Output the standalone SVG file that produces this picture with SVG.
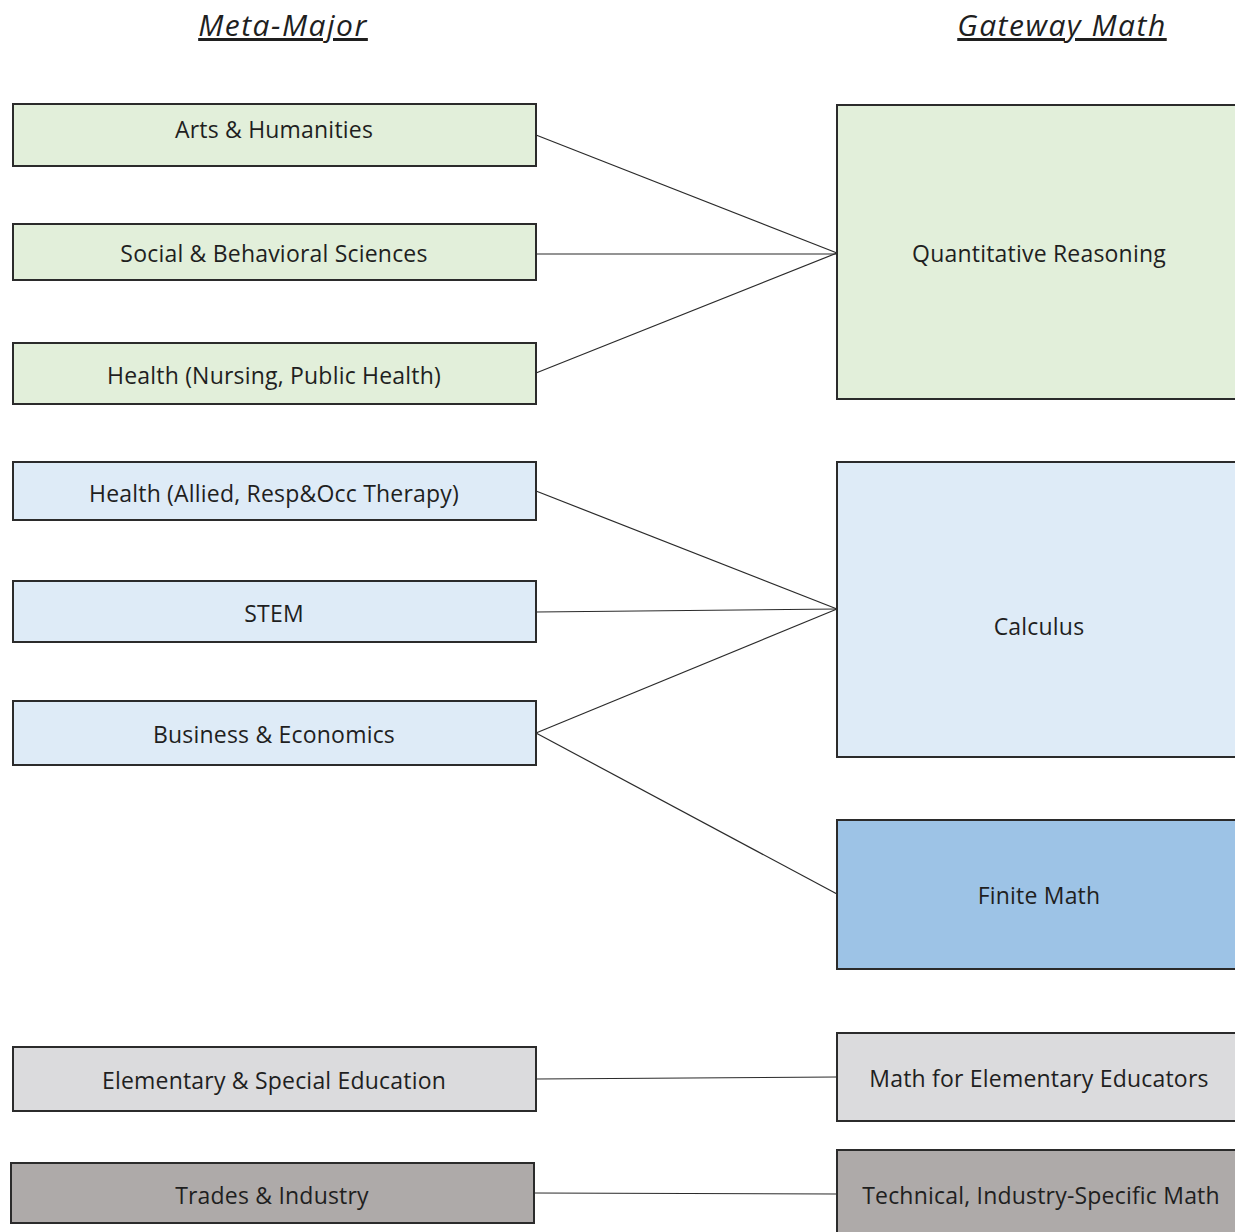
<svg xmlns="http://www.w3.org/2000/svg" width="1235" height="1232" viewBox="0 0 1235 1232">
  <style>
    .box { stroke: #2b2b2b; stroke-width: 2; }
    .green { fill: #e2efda; }
    .blue { fill: #deebf7; }
    .mid { fill: #9dc3e6; }
    .grey { fill: #dbdbdd; }
    .dark { fill: #aeaaa9; }
    .lbl { font-family: "Open Sans", "Liberation Sans", sans-serif; font-size: 23px; letter-spacing: 0.2px; fill: #1f1f1f; text-anchor: middle; }
    .hdr { font-family: "Open Sans", "Liberation Sans", sans-serif; font-size: 30px; letter-spacing: 1.5px; font-style: italic; fill: #1f1f1f; text-anchor: middle; text-decoration: underline; }
    .link { stroke: #2b2b2b; stroke-width: 1.2; fill: none; }
  </style>
  <rect width="1235" height="1232" fill="#ffffff"/>

  <text class="hdr" x="283" y="36">Meta-Major</text>
  <text class="hdr" x="1062" y="36">Gateway Math</text>

  <g id="connectors">
    <line class="link" x1="536" y1="135" x2="837" y2="253"/>
    <line class="link" x1="536" y1="254" x2="837" y2="254"/>
    <line class="link" x1="536" y1="373" x2="837" y2="253"/>
    <line class="link" x1="536" y1="491" x2="837" y2="609"/>
    <line class="link" x1="536" y1="612" x2="837" y2="609"/>
    <line class="link" x1="536" y1="733" x2="837" y2="609"/>
    <line class="link" x1="536" y1="733" x2="837" y2="894"/>
    <line class="link" x1="536" y1="1079" x2="837" y2="1077"/>
    <line class="link" x1="534" y1="1193" x2="837" y2="1194"/>
  </g>

  <!-- meta-major boxes -->
  <g id="arts">
    <rect class="box green" x="13" y="104" width="523" height="62"/>
    <text class="lbl" x="274" y="138">Arts &amp; Humanities</text>
  </g>
  <g id="social">
    <rect class="box green" x="13" y="224" width="523" height="56"/>
    <text class="lbl" x="274" y="262">Social &amp; Behavioral Sciences</text>
  </g>
  <g id="health-nursing">
    <rect class="box green" x="13" y="343" width="523" height="61"/>
    <text class="lbl" x="274" y="384">Health (Nursing, Public Health)</text>
  </g>
  <g id="health-allied">
    <rect class="box blue" x="13" y="462" width="523" height="58"/>
    <text class="lbl" x="274" y="502">Health (Allied, Resp&amp;Occ Therapy)</text>
  </g>
  <g id="stem">
    <rect class="box blue" x="13" y="581" width="523" height="61"/>
    <text class="lbl" x="274" y="622">STEM</text>
  </g>
  <g id="business">
    <rect class="box blue" x="13" y="701" width="523" height="64"/>
    <text class="lbl" x="274" y="743">Business &amp; Economics</text>
  </g>
  <g id="elementary">
    <rect class="box grey" x="13" y="1047" width="523" height="64"/>
    <text class="lbl" x="274" y="1089">Elementary &amp; Special Education</text>
  </g>
  <g id="trades">
    <rect class="box dark" x="11" y="1163" width="523" height="60"/>
    <text class="lbl" x="272" y="1204">Trades &amp; Industry</text>
  </g>

  <!-- gateway math boxes -->
  <g id="quant">
    <rect class="box green" x="837" y="105" width="410" height="294"/>
    <text class="lbl" x="1039" y="262">Quantitative Reasoning</text>
  </g>
  <g id="calculus">
    <rect class="box blue" x="837" y="462" width="410" height="295"/>
    <text class="lbl" x="1039" y="635">Calculus</text>
  </g>
  <g id="finite">
    <rect class="box mid" x="837" y="820" width="410" height="149"/>
    <text class="lbl" x="1039" y="904">Finite Math</text>
  </g>
  <g id="math-elem">
    <rect class="box grey" x="837" y="1033" width="410" height="88"/>
    <text class="lbl" x="1039" y="1087">Math for Elementary Educators</text>
  </g>
  <g id="technical">
    <rect class="box dark" x="837" y="1150" width="410" height="100"/>
    <text class="lbl" x="1041" y="1204">Technical, Industry-Specific Math</text>
  </g>
</svg>
